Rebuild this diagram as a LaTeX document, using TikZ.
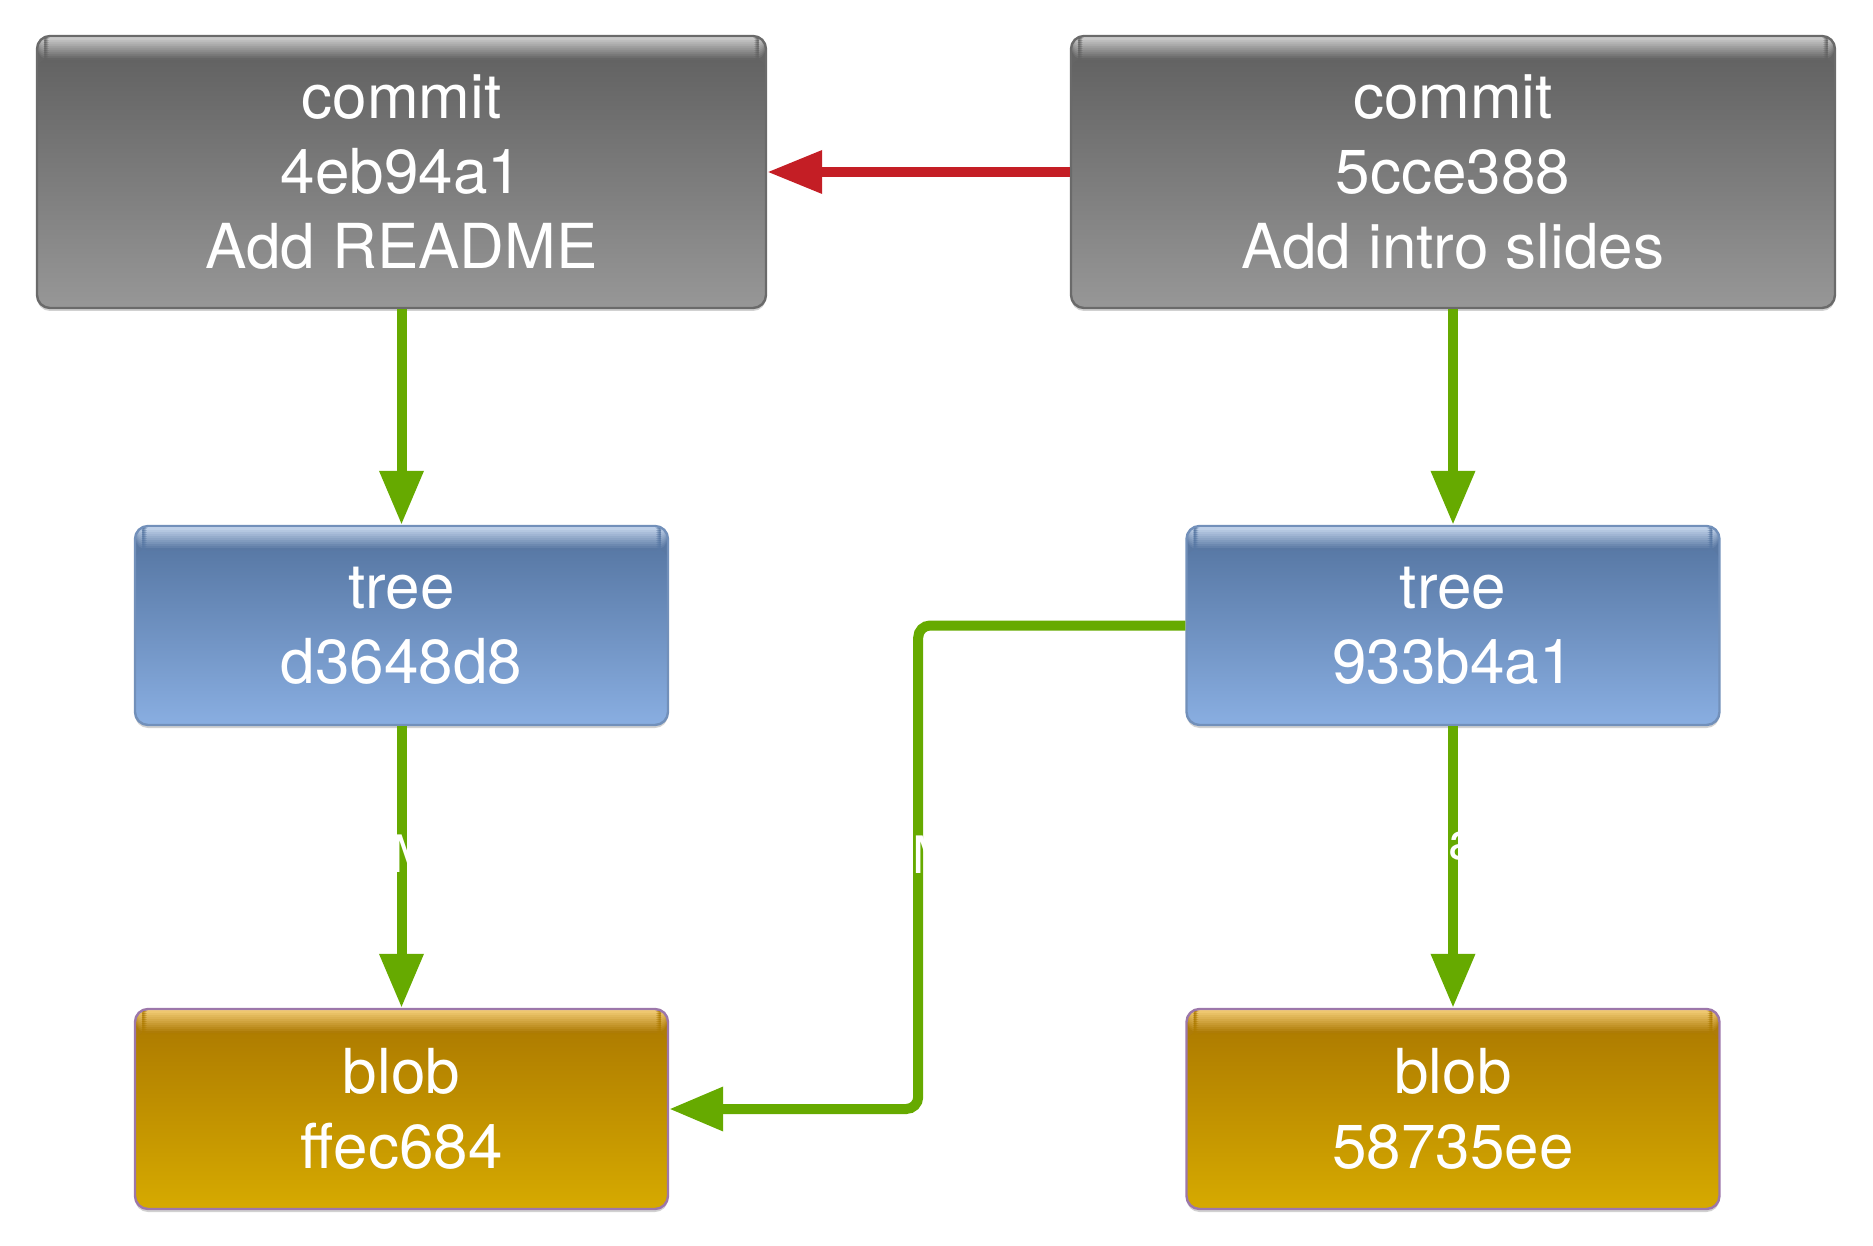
\documentclass[tikz,border=0pt]{standalone}
\usepackage{fontspec}
\setmainfont{TeX Gyre Heros}
\usepackage{xcolor}
\usepackage{tikz}
\usetikzlibrary{arrows.meta, positioning, shadows}

\definecolor{commitHigh}{HTML}{D2D2D2}
\definecolor{commitTop}{HTML}{5E5E5E}
\definecolor{commitBottom}{HTML}{979797}
\definecolor{commitEdge}{HTML}{6A6A6A}
\definecolor{treeHigh}{HTML}{C8D8EE}
\definecolor{treeTop}{HTML}{52729E}
\definecolor{treeBottom}{HTML}{89AEE1}
\definecolor{treeEdge}{HTML}{7290BA}
\definecolor{blobHigh}{HTML}{F5CF7A}
\definecolor{blobTop}{HTML}{AA7700}
\definecolor{blobBottom}{HTML}{D6AA00}
\definecolor{blobEdge}{HTML}{9C77AA}
\definecolor{linkGreen}{HTML}{66AA00}
\definecolor{parentRed}{HTML}{C41E25}

% light band fading into the top colour
\tikzset{gloss/.style 2 args={path picture={
  \foreach \i in {0,...,11}{
    \pgfmathtruncatemacro{\p}{100-8.5*\i}
    \fill[#1!\p!#2] ([yshift=-\i pt]path picture bounding box.north west)
      rectangle ([yshift=-\i pt-1.1pt]path picture bounding box.north east);
  }}}}

\begin{document}
\begin{tikzpicture}[node distance=226.75pt]
\tikzstyle{object} = [rectangle, rounded corners=6.5pt, align=center, text=white, line width=1.2pt, font=\fontsize{31}{37.3}\selectfont, drop shadow={shadow xshift=0pt, shadow yshift=-1.5pt, opacity=0.18, fill=black}]
\tikzstyle{commit} = [object, minimum height=136pt, draw=commitEdge, top color=commitTop, bottom color=commitBottom, gloss={commitHigh}{commitTop}]
\tikzstyle{tree} = [object, minimum width=266.5pt, minimum height=99.5pt, draw=treeEdge, top color=treeTop, bottom color=treeBottom, gloss={treeHigh}{treeTop}]
\tikzstyle{blob} = [object, minimum width=266.5pt, minimum height=100pt, draw=blobEdge, top color=blobTop, bottom color=blobBottom, gloss={blobHigh}{blobTop}]
\tikzstyle{link} = [line width=5pt, draw=linkGreen, -{Triangle[length=27pt, width=21pt]}]
\tikzstyle{parent} = [line width=5pt, draw=parentRed, -{Triangle[length=27.5pt, width=20.5pt]}]
\tikzstyle{filename} = [text=white, anchor=base, inner sep=0pt, font=\fontsize{25.8}{31}\selectfont]

\useasboundingbox (-200.75pt,86pt) rectangle (735.75pt,-537pt);

% Commits
\node (commitA) [commit, minimum width=364.5pt] {commit\\4eb94a1\\Add README};
\node (commitB) [commit, minimum width=382pt, right of=commitA, xshift=299pt] {commit\\5cce388\\Add intro slides};

% Trees and blobs
\node (treeA) [tree, below of=commitA] {tree\\d3648d8};
\node (blobA) [blob, below of=treeA, yshift=-15pt] {blob\\ffec684};
\node (treeB) [tree, below of=commitB] {tree\\933b4a1};
\node (blobB) [blob, below of=treeB, yshift=-15pt] {blob\\58735ee};

\coordinate (turn) at ([xshift=124.5pt]blobA.east);

% Links
\draw [parent] (commitB) -- (commitA);
\draw [link] (commitA) -- (treeA);
\draw [link] (commitB) -- (treeB);
\draw [link] (treeA) -- node[filename, pos=0.518, xshift=-21.25pt] {README} (blobA);
\draw [link, rounded corners=6pt] (treeB.west) -| node[filename, pos=0.756, xshift=-19.5pt] {README} (turn) -- (blobA.east);
\draw [link] (treeB) -- node[filename, pos=0.475, xshift=-17.8pt] {slides.pages} (blobB);
\end{tikzpicture}
\end{document}
